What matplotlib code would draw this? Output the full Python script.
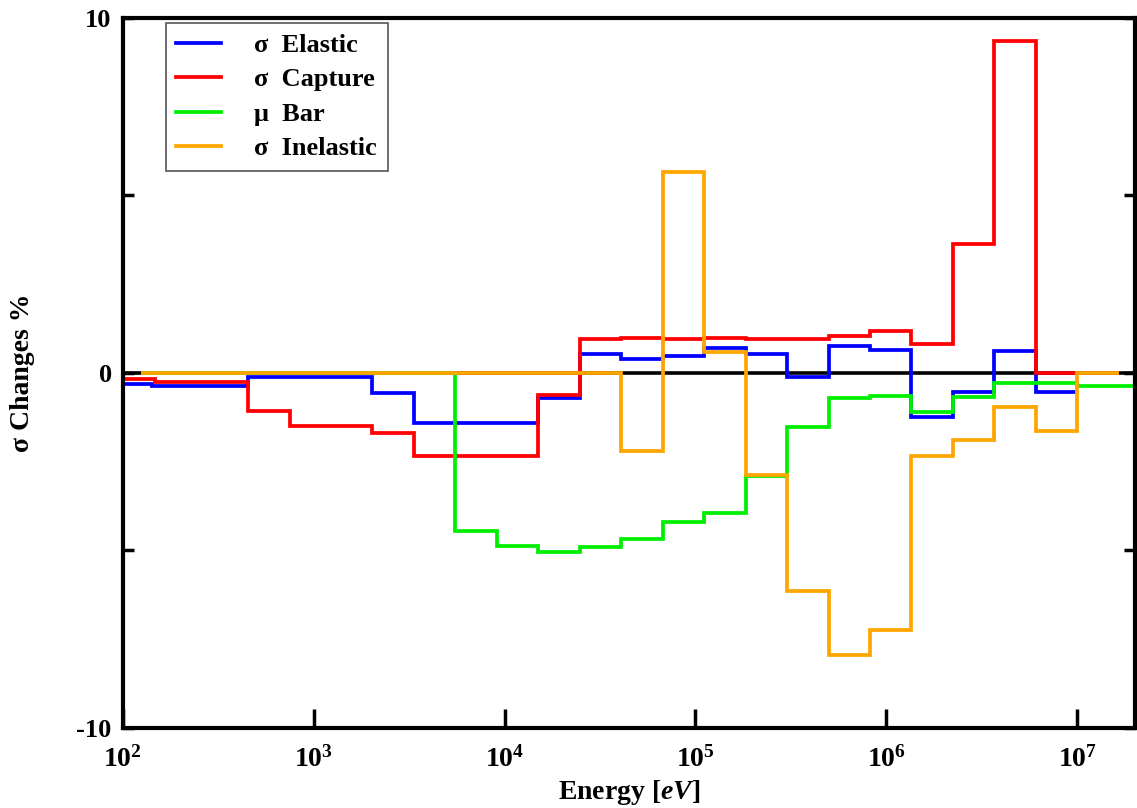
import matplotlib
matplotlib.use("Agg")
import matplotlib.pyplot as plt
from matplotlib.ticker import FixedLocator, NullLocator, LogFormatterMathtext, FuncFormatter

plt.rcParams['font.family'] = ['Liberation Serif', 'DejaVu Serif']
plt.rcParams['font.weight'] = 'bold'
plt.rcParams['mathtext.fontset'] = 'custom'
plt.rcParams['mathtext.rm'] = 'Liberation Serif:bold'
plt.rcParams['mathtext.bf'] = 'Liberation Serif:bold'
plt.rcParams['mathtext.it'] = 'Liberation Serif:italic:bold'
plt.rcParams['mathtext.default'] = 'bf'

# group boundaries [eV] and relative changes [%] per reaction
elastic_edges = [100, 1.42e2, 4.54e2, 2.03e3, 3.35e3, 1.50e4, 2.48e4, 4.09e4, 6.74e4, 1.11e5,
                 1.83e5, 3.02e5, 4.98e5, 8.21e5, 1.353e6, 2.231e6, 3.679e6, 6.065e6, 1e7]
elastic_vals = [-0.30, -0.37, -0.12, -0.56, -1.40, -0.70, 0.53, 0.39, 0.48, 0.71,
                0.53, -0.12, 0.77, 0.65, -1.24, -0.53, 0.62, -0.53]

capture_edges = [100, 1.47e2, 4.54e2, 7.49e2, 2.03e3, 3.35e3, 1.50e4, 2.48e4, 4.09e4, 6.74e4,
                 1.11e5, 1.83e5, 3.02e5, 4.98e5, 8.21e5, 1.353e6, 2.231e6, 3.679e6, 6.065e6, 1e7]
capture_vals = [-0.17, -0.25, -1.07, -1.49, -1.69, -2.34, -0.62, 0.96, 0.99, 0.96,
                0.97, 0.96, 0.96, 1.05, 1.18, 0.82, 3.63, 9.35, 0.0]

mubar_edges = [1.24e2, 5.53e3, 9.12e3, 1.50e4, 2.48e4, 4.09e4, 6.74e4, 1.11e5, 1.83e5,
               3.02e5, 4.98e5, 8.21e5, 1.353e6, 2.231e6, 3.679e6, 6.065e6, 1e7, 2e7]
mubar_vals = [0.0, -4.45, -4.88, -5.04, -4.90, -4.68, -4.20, -3.95, -2.90,
              -1.53, -0.70, -0.65, -1.10, -0.67, -0.28, -0.28, -0.36]

inelastic_edges = [1.24e2, 4.09e4, 6.74e4, 1.11e5, 1.83e5, 3.02e5, 4.98e5, 8.21e5,
                   1.353e6, 2.231e6, 3.679e6, 6.065e6, 1e7, 1.65e7]
inelastic_vals = [0.0, -2.20, 5.66, 0.60, -2.87, -6.14, -7.94, -7.24,
                  -2.34, -1.89, -0.97, -1.65, 0.0]

fig = plt.figure(figsize=(11.37, 8.08), dpi=100)
ax = fig.add_axes([0.108, 0.099, 0.89, 0.879])

# black zero line sits underneath the coloured steps
ax.axhline(0, color='black', lw=2.6, zorder=0.5)
lw = 2.7
ax.stairs(elastic_vals, elastic_edges, baseline=None, color='#0000ff', lw=lw, zorder=2, label='σ  Elastic')
ax.stairs(capture_vals, capture_edges, baseline=None, color='#ff0000', lw=lw, zorder=2, label='σ  Capture')
ax.stairs(mubar_vals, mubar_edges, baseline=None, color='#00ee00', lw=lw, zorder=2, label='μ  Bar')
ax.stairs(inelastic_vals, inelastic_edges, baseline=None, color='#ffa500', lw=lw, zorder=2, label='σ  Inelastic')

ax.set_xscale('log')
ax.set_xlim(100, 2e7)
ax.set_ylim(-10, 10)

ax.xaxis.set_major_locator(FixedLocator([1e2, 1e3, 1e4, 1e5, 1e6, 1e7]))
ax.xaxis.set_major_formatter(LogFormatterMathtext())
ax.xaxis.set_minor_locator(NullLocator())
ax.yaxis.set_major_locator(FixedLocator([-10, -5, 0, 5, 10]))
ax.yaxis.set_major_formatter(FuncFormatter(lambda v, p: '' if abs(v) == 5 else '%d' % v))

ax.tick_params(axis='x', direction='in', length=14, width=2.5, labelsize=20, pad=13,
               top=False, bottom=True)
ax.tick_params(axis='y', direction='in', length=8, width=2.5, labelsize=19, pad=8,
               left=True, right=True)
for s in ax.spines.values():
    s.set_linewidth(3)

ax.set_xlabel(r'Energy [$\mathit{eV}$]', fontsize=20, fontweight='bold', labelpad=4)
ax.set_ylabel('σ Changes %', fontsize=20, fontweight='bold', labelpad=30)

leg = ax.legend(loc='upper left', bbox_to_anchor=(0.0425, 0.993), borderaxespad=0,
                fontsize=19, fancybox=False, framealpha=1, edgecolor='#555555',
                handlelength=1.7, handletextpad=1.25, labelspacing=0.42, borderpad=0.4)
leg.get_frame().set_linewidth(1.2)

fig.savefig('out.png', dpi=100)
